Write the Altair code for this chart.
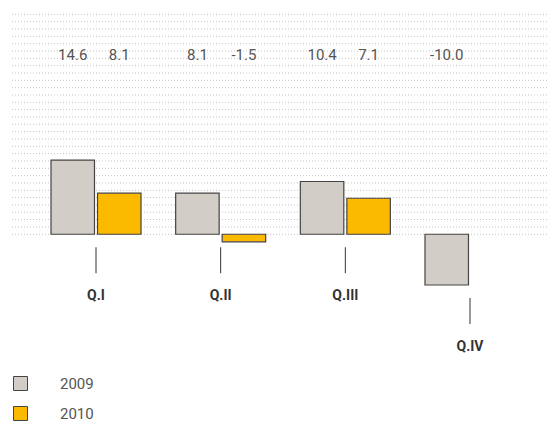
import altair as alt
import pandas as pd

quarters = ["Q.I", "Q.II", "Q.III", "Q.IV"]
values_2009 = [14.6, 8.1, 10.4, -10.0]
values_2010 = [8.1, -1.5, 7.1, None]
years = ["2009", "2010"]
colors = ["#d2cdc6", "#fbb900"]

W, H = 540, 417
Y_DOMAIN = [-37.6, 44.6]
PX = H / (Y_DOMAIN[1] - Y_DOMAIN[0])  # pixels per unit

rows = []
for q, a, b in zip(quarters, values_2009, values_2010):
    rows.append({"quarter": q, "year": "2009", "value": a, "label": f"{a:.1f}"})
    if b is not None:
        rows.append({"quarter": q, "year": "2010", "value": b, "label": f"{b:.1f}"})
df = pd.DataFrame(rows)

qdf = pd.DataFrame({"quarter": quarters})
qdf["low"] = [min(0.0, v) for v in values_2009]
qdf["t1"] = qdf["low"] - 13 / PX
qdf["t2"] = qdf["low"] - 39 / PX
qdf["ly"] = qdf["low"] - 62 / PX

grid = pd.DataFrame({"g": [i * 7.33 / PX for i in range(32)]})

FONT = "Roboto"

xscale = alt.Scale(range=[43, 507], paddingInner=0.278, paddingOuter=0)
xenc = alt.X("quarter:N", sort=quarters, axis=None, scale=xscale)
yscale = alt.Scale(domain=Y_DOMAIN, nice=False, zero=False)
xoff = alt.XOffset("year:N", scale=alt.Scale(domain=years, paddingInner=0.065, paddingOuter=0))

gridlayer = alt.Chart(grid).mark_rule(color="#c4c4c4", strokeWidth=1, strokeDash=[1, 2]).encode(
    x=alt.value(4), x2=alt.value(W),
    y=alt.Y("g:Q", scale=yscale, axis=None),
)

bars = alt.Chart(df).mark_bar(stroke="#444444", strokeWidth=1.2).encode(
    x=xenc,
    xOffset=xoff,
    y=alt.Y("value:Q", scale=yscale, axis=None),
    y2=alt.datum(0),
    color=alt.Color("year:N", scale=alt.Scale(domain=years, range=colors),
                    legend=alt.Legend(orient="none", legendX=5, legendY=368, title=None,
                                      symbolType="square", symbolSize=196,
                                      symbolStrokeColor="#444444", symbolStrokeWidth=1,
                                      symbolOpacity=1,
                                      labelFont=FONT, labelFontSize=15, labelColor="#555555",
                                      labelOffset=32, rowPadding=11, padding=0)),
)

vals = alt.Chart(df).mark_text(font=FONT, fontSize=15, color="#555555", baseline="middle").encode(
    x=xenc,
    xOffset=xoff,
    y=alt.value(47),
    text="label:N",
)

ticks = alt.Chart(qdf).mark_rule(color="#333333", strokeWidth=1).encode(
    x=alt.X("quarter:N", sort=quarters, axis=None),
    y=alt.Y("t1:Q", scale=yscale, axis=None),
    y2="t2:Q",
)

qlabels = alt.Chart(qdf).mark_text(font=FONT, fontSize=14, fontWeight="bold", color="#333333",
                                   baseline="middle").encode(
    x=alt.X("quarter:N", sort=quarters, axis=None),
    y=alt.Y("ly:Q", scale=yscale, axis=None),
    text="quarter:N",
)

chart = alt.layer(gridlayer, bars, vals, ticks, qlabels).properties(
    width=W, height=H, padding=0, autosize=alt.AutoSizeParams(type="none"),
).configure_view(stroke=None)

chart.save("out.html", embed_options={"renderer": "svg", "actions": False})
